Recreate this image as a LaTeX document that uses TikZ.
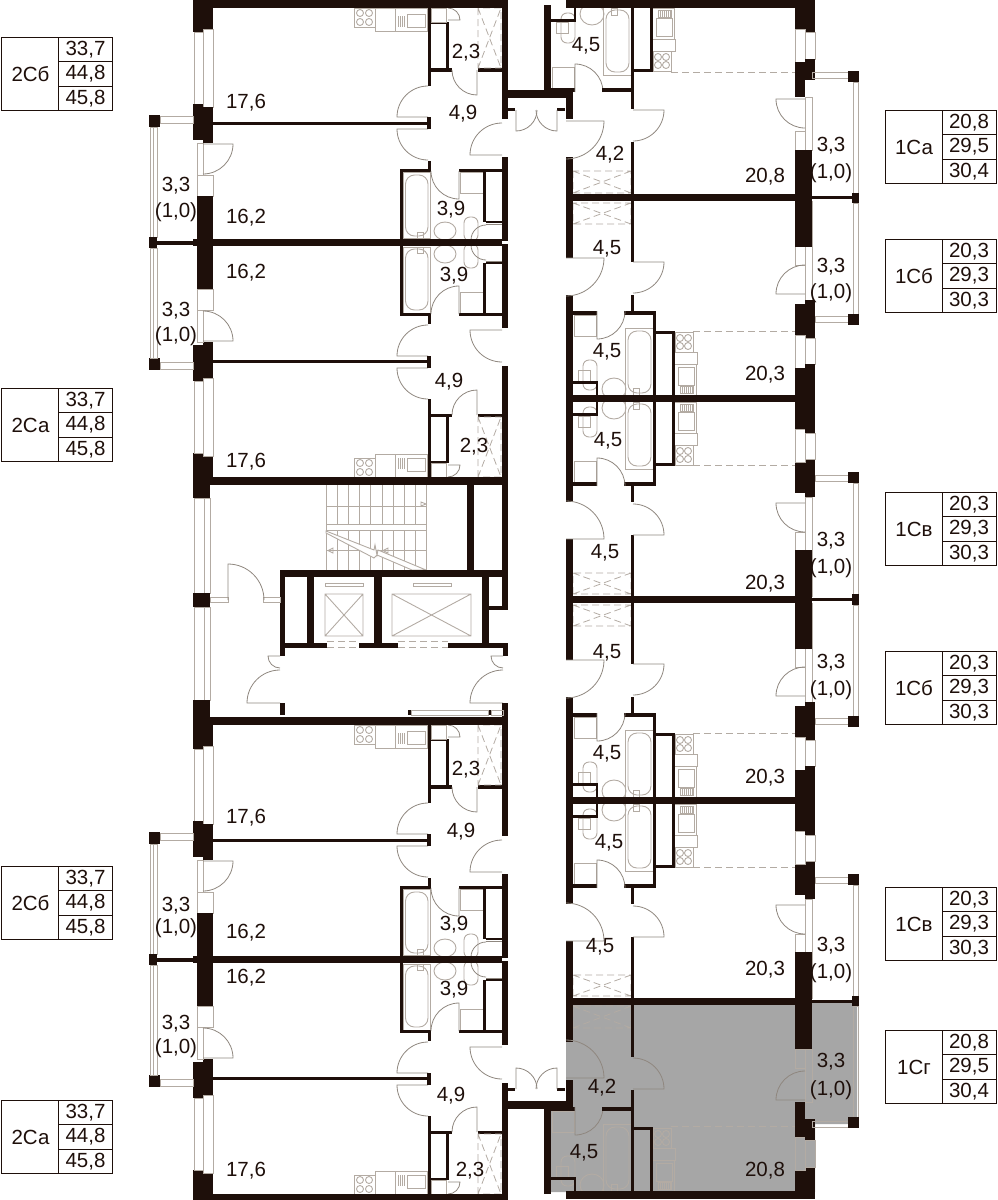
\documentclass[tikz,border=0pt]{standalone}
\usepackage{fontspec}
\setmainfont{Liberation Sans}
\definecolor{wallc}{HTML}{1E0F0A}
\definecolor{fixc}{HTML}{B3ABA3}
\definecolor{doorc}{HTML}{8F877F}
\definecolor{flatgray}{HTML}{A6A6A6}
\tikzset{
  wall/.style={fill=wallc},
  fixture/.style={draw=fixc,line width=.9pt},
  doorline/.style={draw=doorc,line width=.8pt},
  hatchline/.style={draw=fixc,line width=.8pt,dashed,dash pattern=on 7pt off 4pt},
  area/.style={inner sep=0pt,text=wallc,font=\fontsize{20.5}{24}\selectfont},
  tabline/.style={draw=wallc,line width=.9pt}
}
\newcommand{\doorswing}[5]{\draw[doorline] (#1,#2) -- ++(#3:#5) arc[start angle=#3,end angle=#4,radius=#5];}
\newcommand{\hatchbox}[4]{\draw[hatchline] (#1,#2) rectangle (#3,#4) (#1,#2) -- (#3,#4) (#1,#4) -- (#3,#2);}
\newcommand{\flattab}[7]{
  \draw[tabline] (#2,#3) rectangle (#2+111,#3+73.5);
  \draw[tabline] (#2+57,#3) -- (#2+57,#3+73.5);
  \draw[tabline] (#2+57,#3+24.5) -- (#2+111,#3+24.5);
  \draw[tabline] (#2+57,#3+49) -- (#2+111,#3+49);
  \node[area] (#1l) at (#2+29,#3+37) {#4};
  \node[area] (#1a) at (#2+84,#3+12.5) {#5};
  \node[area] (#1b) at (#2+84,#3+37) {#6};
  \node[area] (#1c) at (#2+84,#3+61.5) {#7};
}
% left wing, one flat, y from 0 to 241
\newcommand{\leftflat}{
  % kitchen
  \draw[fixture] (354,8) rectangle (375,27);
  \foreach \bx in {360,369} \foreach \by in {13,22} \draw[fixture] (\bx,\by) circle (3.5);
  \draw[fixture] (375,8) rectangle (395,31);
  \draw[fixture] (395,8) rectangle (427,31);
  \draw[fixture] (407,14) rectangle (425,27);
  \foreach \sx in {398,400,402,404} \draw[fixture,line width=.6pt] (\sx,16) -- (\sx,27);
  % closet and shaft
  \fill[wall] (428,8) rectangle (431,86);
  \fill[wall] (431,22) rectangle (446,24);
  \fill[wall] (446,22) rectangle (449,70);
  \fill[wall] (431,68) rectangle (452,71.5);
  \fill[wall] (478,68) rectangle (502,71.5);
  \draw[fixture] (431,8) rectangle (446,22);
  \doorswing{448}{20}{0}{-90}{12}
  \hatchbox{478}{8}{501}{68}
  \doorswing{477}{70}{90}{180}{25}
  % room doors
  \doorswing{428}{117}{180}{270}{31}
  \doorswing{428}{129}{180}{90}{31}
  \fill[wall] (213,122) rectangle (428,125);
  \fill[wall] (427,117) rectangle (431,129);
  \fill[wall] (428,161) rectangle (431,172);
  \doorswing{502}{155}{180}{270}{32}
  % bathroom
  \draw[fixture] (403,172) rectangle (430,238);
  \draw[fixture,rounded corners=9pt] (405.5,175) rectangle (428,236);
  \draw[fixture] (445,231) ellipse [x radius=11,y radius=9];
  \draw[fixture,rounded corners=6pt] (464,217) rectangle (478,241);
  \draw[fixture] (460,172) rectangle (483,193);
  \draw[fixture] (417,232) rectangle (423,238);
  \fill[wall] (400,169) rectangle (431,172);
  \fill[wall] (400,169) rectangle (403,240);
  \fill[wall] (459,169) rectangle (502,172);
  \fill[wall] (483,172) rectangle (486,222);
  \fill[wall] (486,221) rectangle (502,223);
  \doorswing{459}{171}{90}{180}{28}
  \draw[doorline] (486,224) -- (502,224);
  \draw[doorline] (471,240) arc[start angle=180,end angle=270,radius=15];
  % corridor wall
  \fill[wall] (502,0) rectangle (508,119);
  \fill[wall] (502,157) rectangle (508,241);
  % outer wall and balcony
  \fill[wall] (193,0) rectangle (203,32);
  \fill[wall] (203,0) rectangle (213,29);
  \draw[fixture] (194,32) rectangle (203,104);
  \draw[fixture] (203,29) rectangle (213,107);
  \fill[wall] (193,104) rectangle (203,140);
  \fill[wall] (203,107) rectangle (213,143);
  \draw[fixture] (197,143) rectangle (203,175);
  \draw[fixture] (197,175) rectangle (213,196);
  \doorswing{203}{144}{0}{90}{30}
  \fill[wall] (197,196) rectangle (213,241);
  \fill[wall] (149,115) rectangle (160,127);
  \fill[wall] (149,237) rectangle (157,248);
  \draw[fixture] (160,116) rectangle (193,123);
  \draw[fixture] (150,127) rectangle (157,237);
  \draw[fixture] (153,127) -- (153,237);
  \fill[wall] (157,241) rectangle (197,244.5);
  \fill[wall] (193,239) rectangle (502,246);
  \fill[wall] (193,0) rectangle (508,8);
}
% shared bath and kitchen block, drawn for the 1Сб flat
\newcommand{\wetcore}{
  \draw[fixture] (574,315) rectangle (596,336);
  \draw[fixture,rounded corners=6pt] (583,360) rectangle (597,390);
  \draw[fixture] (578,370) rectangle (590,381);
  \draw[fixture] (614,389) ellipse [x radius=12,y radius=11];
  \draw[fixture] (625,328) rectangle (653,396);
  \draw[fixture,rounded corners=9pt] (628,331) rectangle (651,393);
  \draw[fixture] (633,388) rectangle (639,395);
  \draw[fixture] (675,332) rectangle (693,352);
  \foreach \bx in {680,688} \foreach \by in {338,346} \draw[fixture] (\bx,\by) circle (3.5);
  \draw[fixture] (674,352) rectangle (697,364);
  \draw[fixture] (674,364) rectangle (696,395);
  \draw[fixture] (678,367) rectangle (694,385);
  \draw[fixture] (680,386) rectangle (693,393);
  \foreach \sx in {682,684,...,692} \draw[fixture,line width=.6pt] (\sx,386) -- (\sx,393);
  \fill[wall] (566,311) rectangle (573,398);
  \fill[wall] (573,311) rectangle (597,315);
  \fill[wall] (624,311) rectangle (656,315);
  \fill[wall] (653,311) rectangle (656,398);
  \fill[wall] (656,331) rectangle (675,334);
  \fill[wall] (672,331) rectangle (675,398);
  \fill[wall] (573,381) rectangle (598,384);
  \fill[wall] (596,381) rectangle (598,396);
  \doorswing{597}{311}{90}{0}{28}
}
% right wing, 1Сб flat, y from 197 to 398
\newcommand{\rightflat}{
  \wetcore
  \draw[hatchline] (693,331.5) -- (795,331.5);
  \hatchbox{573}{203}{631}{224}
  \fill[wall] (566,197) rectangle (573,258);
  \fill[wall] (566,295) rectangle (573,311);
  \fill[wall] (631,197) rectangle (634,262);
  \fill[wall] (631,295) rectangle (634,312);
  \doorswing{566}{258}{0}{90}{38}
  \doorswing{633}{262}{0}{90}{31}
  \draw[fixture] (795,245) rectangle (805,265);
  \draw[fixture] (805,201) rectangle (812,300);
  \doorswing{805}{294}{180}{270}{29}
  \fill[wall] (795,197) rectangle (812,247);
  \fill[wall] (795,304) rectangle (805,335);
  \fill[wall] (805,300) rectangle (815,338);
  \draw[fixture] (795,335) rectangle (805,368);
  \draw[fixture] (805,338) rectangle (815,364);
  \fill[wall] (795,368) rectangle (805,398);
  \fill[wall] (805,364) rectangle (815,398);
  \draw[fixture] (853,203) rectangle (858,314);
  \draw[fixture] (815,316) rectangle (848,322);
  \fill[wall] (848,314) rectangle (859,325);
  \fill[wall] (852,193) rectangle (859,203);
  \fill[wall] (812,196) rectangle (852,199);
  \fill[wall] (566,194) rectangle (812,201);
  \fill[wall] (566,395) rectangle (815,402);
}
% right wing end flat, 1Са, y from 0 to 197
\newcommand{\capflat}{
  \begin{scope}[shift={(-22,403)},yscale=-1]
    \wetcore
  \end{scope}
  \draw[hatchline] (671,72.5) -- (795,72.5);
  \hatchbox{573}{171}{631}{193}
  % shaft and lobby
  \fill[wall] (502,90) rectangle (573,98);
  \fill[wall] (565.5,90) rectangle (573,119);
  \fill[wall] (507,108) rectangle (515,111);
  \fill[wall] (557,108) rectangle (565,111);
  \doorswing{516}{110}{90}{0}{21}
  \doorswing{557}{110}{90}{180}{21}
  % corridor and room walls
  \fill[wall] (566,157) rectangle (573,197);
  \fill[wall] (631,70) rectangle (634,109);
  \fill[wall] (631,142) rectangle (634,197);
  \fill[wall] (602,88) rectangle (631,92);
  \doorswing{566}{121}{0}{90}{38}
  \doorswing{633}{110}{0}{90}{31}
  % facade
  \fill[wall] (795,0) rectangle (805,29);
  \fill[wall] (805,0) rectangle (815,32);
  \draw[fixture] (795,29) rectangle (805,62);
  \draw[fixture] (805,32) rectangle (815,59);
  \fill[wall] (795,62) rectangle (805,97);
  \fill[wall] (805,59) rectangle (815,80);
  \draw[fixture] (805,97) rectangle (812,150);
  \draw[fixture] (795,131) rectangle (805,150);
  \doorswing{805}{99}{180}{90}{29}
  \fill[wall] (795,150) rectangle (812,197);
  \draw[fixture] (853,82) rectangle (858,193);
  \draw[fixture] (812,72) rectangle (848,78);
  \fill[wall] (848,71) rectangle (859,82);
  \fill[wall] (566,0) rectangle (815,8);
}
\begin{document}
\begin{tikzpicture}[x=1pt,y=1pt,yscale=-1]
  \useasboundingbox (0,0) rectangle (997,1200);
  % selected flat
  \fill[flatgray] (573,1003) -- (857,1003) -- (857,1124) -- (815,1124) -- (815,1192) -- (550,1192)
    -- (550,1105) -- (566,1105) -- (566,1042) -- (573,1042) -- cycle;
  % left wing
  \foreach \dy in {0,717} {
    \begin{scope}[shift={(0,\dy)}]
      \leftflat
      \begin{scope}[shift={(0,485)},yscale=-1]
        \leftflat
      \end{scope}
    \end{scope}
  }
  % right wing
  \capflat
  \begin{scope}[shift={(0,1199)},yscale=-1]
    \capflat
  \end{scope}
  \rightflat
  \begin{scope}[shift={(0,797)},yscale=-1]
    \rightflat
  \end{scope}
  \begin{scope}[shift={(0,402)}]
    \rightflat
  \end{scope}
  \begin{scope}[shift={(0,1199)},yscale=-1]
    \rightflat
  \end{scope}
  % stair hall facade
  \fill[wall] (193,485) rectangle (210,498);
  \draw[fixture] (194,498) rectangle (204,593);
  \draw[fixture] (204,498) rectangle (210,593);
  \fill[wall] (193,593) rectangle (210,607);
  \draw[fixture] (194,607) rectangle (204,700);
  \draw[fixture] (204,607) rectangle (210,700);
  \fill[wall] (193,700) rectangle (210,717);
  % stairs
  \foreach \sx in {326,337.2,...,427} \draw[fixture] (\sx,485) -- (\sx,570);
  \draw[fixture] (326,506) -- (426,506);
  \draw[fixture] (326,550) -- (426,550);
  \draw[fixture,fill=white] (326,524) rectangle (426,530);
  \draw[fixture,fill=white] (326,531) -- (374,550) -- (375,545) -- (377,555) -- (378,550) -- (426,570) -- (412,570) -- (377,555) -- (374,558) -- (326,533) -- cycle;
  \draw[fixture] (421,502) -- (421,506) -- (426,504) -- cycle;
  \draw[fixture] (333,548) -- (333,553) -- (328,550.5) -- cycle;
  \draw[fixture] (388,548) -- (388,553) -- (383,550.5) -- cycle;
  % core walls
  \fill[wall] (467,485) rectangle (474,570);
  \fill[wall] (502,485) rectangle (508,610);
  \fill[wall] (280,570) rectangle (508,577);
  \fill[wall] (280,570) rectangle (285,656);
  \fill[wall] (307,577) rectangle (314,648);
  \fill[wall] (374,577) rectangle (382,648);
  \fill[wall] (482,577) rectangle (489,648);
  \fill[wall] (489,606) rectangle (508,610);
  \fill[wall] (285,643) rectangle (327,648);
  \fill[wall] (359,643) rectangle (398,648);
  \fill[wall] (448,643) rectangle (508,648);
  \fill[wall] (503,648) rectangle (508,656);
  % lifts
  \draw[fixture] (325,594) rectangle (363,636) (325,594) -- (363,636) (325,636) -- (363,594);
  \draw[fixture] (392,594) rectangle (471,636) (392,594) -- (471,636) (392,636) -- (471,594);
  \draw[fixture] (325,583) rectangle (363,586);
  \draw[fixture] (413,583) rectangle (451,586);
  \draw[hatchline] (327,641) -- (359,641) (327,647) -- (359,647);
  \draw[hatchline] (398,641) -- (448,641) (398,647) -- (448,647);
  % lobby
  \draw[fixture] (210,597) rectangle (228,602);
  \draw[fixture] (263,597) rectangle (280,602);
  \doorswing{228}{600}{270}{360}{36}
  \doorswing{280}{656}{180}{90}{12}
  \doorswing{280}{703}{180}{270}{33}
  \doorswing{503}{656}{180}{90}{12}
  \doorswing{503}{703}{180}{270}{33}
  \fill[wall] (280,703) rectangle (285,715);
  \fill[wall] (502,703) rectangle (508,717);
  \fill[wall] (408,710) rectangle (411,715);
  \fill[wall] (488,710) rectangle (491,715);
  \draw[fixture] (411,710) rectangle (488,715);
  \draw[fixture] (491,710) rectangle (503,715);
  % area labels
  \foreach \ax/\ay/\atxt [count=\ai] in {
    246/103/{17,6},463/114/{4,9},466/53/{2,3},176/186/{3,3},176/212/{(1,0)},246/218/{16,2},
    246/273/{16,2},451/210/{3,9},454/276/{3,9},176/311/{3,3},176/336/{(1,0)},449/382/{4,9},
    474/447/{2,3},246/462/{17,6},246/818/{17,6},461/832/{4,9},466/770/{2,3},176/906/{3,3},
    176/928/{(1,0)},246/933/{16,2},246/978/{16,2},454/925/{3,9},454/990/{3,9},176/1024/{3,3},
    176/1048/{(1,0)},451/1096/{4,9},470/1171/{2,3},246/1171/{17,6},
    586/46/{4,5},610/155/{4,2},765/177/{20,8},831/146/{3,3},831/173/{(1,0)},607/249/{4,5},
    831/267/{3,3},831/293/{(1,0)},607/352/{4,5},765/375/{20,3},608/441/{4,5},605/553/{4,5},
    765/584/{20,3},831/541/{3,3},831/568/{(1,0)},607/653/{4,5},831/663/{3,3},831/690/{(1,0)},
    607/754/{4,5},765/778/{20,3},609/843/{4,5},600/947/{4,5},765/970/{20,3},831/946/{3,3},
    831/973/{(1,0)},602/1088/{4,2},584/1153/{4,5},765/1171/{20,8},831/1062/{3,3},831/1090/{(1,0)}}
    \node[area] (room\ai) at (\ax,\ay) {\atxt};
  % flat tables
  \flattab{tA}{1.5}{37}{2Сб}{33,7}{44,8}{45,8}
  \flattab{tB}{1.5}{388}{2Са}{33,7}{44,8}{45,8}
  \flattab{tC}{1.5}{866}{2Сб}{33,7}{44,8}{45,8}
  \flattab{tD}{1.5}{1100}{2Са}{33,7}{44,8}{45,8}
  \flattab{tE}{885}{110}{1Са}{20,8}{29,5}{30,4}
  \flattab{tF}{885}{239}{1Сб}{20,3}{29,3}{30,3}
  \flattab{tG}{885}{492}{1Св}{20,3}{29,3}{30,3}
  \flattab{tH}{885}{651}{1Сб}{20,3}{29,3}{30,3}
  \flattab{tI}{885}{887}{1Св}{20,3}{29,3}{30,3}
  \flattab{tJ}{885}{1030}{1Сг}{20,8}{29,5}{30,4}
\end{tikzpicture}
\end{document}
